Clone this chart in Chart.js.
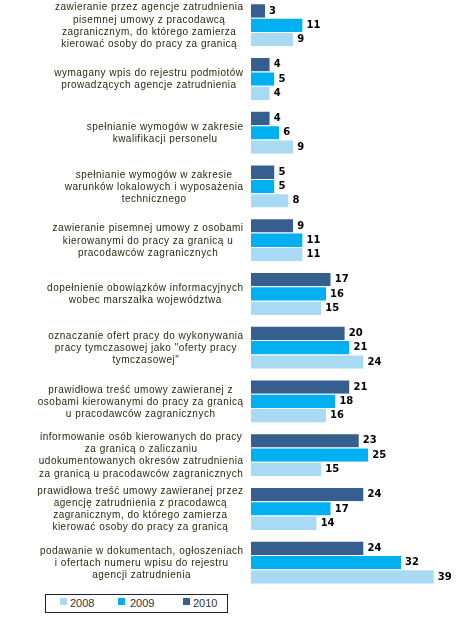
<!DOCTYPE html>
<html>
<head>
<meta charset="utf-8">
<script src="https://cdn.jsdelivr.net/npm/chart.js@4"></script>
<style>
  html, body { margin: 0; padding: 0; background: #fff; width: 462px; height: 619px; overflow: hidden; }
  #wrap { position: absolute; left: 0; top: -2px; width: 462px; height: 591px; }
  #legend { position: absolute; left: 45px; top: 594px; width: 181px; height: 17px; border: 1px solid #222; box-sizing: content-box; font: 11px "Liberation Sans", Arial, sans-serif; color: #333; }
  .item { position: absolute; top: 2px; line-height: 13px; }
  .sw { position: absolute; top: 3px; width: 7px; height: 7px; }
</style>
</head>
<body>
<div id="wrap"><canvas id="c"></canvas></div>
<div id="legend"></div>
<script>
const categories = [
  ["zawieranie przez agencje zatrudnienia","pisemnej umowy z pracodawcą","zagranicznym, do którego zamierza","kierować osoby do pracy za granicą"],
  ["wymagany wpis do rejestru podmiotów","prowadzących agencje zatrudnienia"],
  ["spełnianie wymogów w zakresie","kwalifikacji personelu"],
  ["spełnianie wymogów w zakresie","warunków lokalowych i wyposażenia","technicznego"],
  ["zawieranie pisemnej umowy z osobami","kierowanymi do pracy za granicą u","pracodawców zagranicznych"],
  ["dopełnienie obowiązków informacyjnych","wobec marszałka województwa"],
  ["oznaczanie ofert pracy do wykonywania","pracy tymczasowej jako \"oferty pracy","tymczasowej\""],
  ["prawidłowa treść umowy zawieranej z","osobami kierowanymi do pracy za granicą","u pracodawców zagranicznych"],
  ["informowanie osób kierowanych do pracy","za granicą o zaliczaniu","udokumentowanych okresów zatrudnienia","za granicą u pracodawców zagranicznych"],
  ["prawidłowa treść umowy zawieranej przez","agencję zatrudnienia z pracodawcą","zagranicznym, do którego zamierza","kierować osoby do pracy za granicą"],
  ["podawanie w dokumentach, ogłoszeniach","i ofertach numeru wpisu do rejestru","agencji zatrudnienia"]
];
const values2010 = [3, 4, 4, 5, 9, 17, 20, 21, 23, 24, 24];
const values2009 = [11, 5, 6, 5, 11, 16, 21, 18, 25, 17, 32];
const values2008 = [9, 4, 9, 8, 11, 15, 24, 16, 15, 14, 39];
const seriesNames = ["2010", "2009", "2008"];
const seriesColors = ["#365F8F", "#00B0F0", "#A9DAF3"];

const labelPlugin = {
  id: 'catLabels',
  afterDraw(chart) {
    const ctx = chart.ctx;
    const y = chart.scales.y;
    ctx.save();
    ctx.font = '10px "Liberation Sans", Arial, sans-serif';
    try { ctx.letterSpacing = '0.5px'; } catch (e) {}
    ctx.fillStyle = '#2A2A10';
    ctx.textAlign = 'center';
    ctx.textBaseline = 'middle';
    const right = 243.5, lh = 12.1;
    categories.forEach((lines, i) => {
      const cy = y.getPixelForValue(i) + 1;
      let w = 0;
      lines.forEach(l => { w = Math.max(w, ctx.measureText(l).width); });
      const cx = right - w / 2;
      const y0 = cy - (lines.length - 1) * lh / 2;
      lines.forEach((l, k) => ctx.fillText(l, cx, y0 + k * lh));
    });
    ctx.restore();
  },
  afterDatasetsDraw(chart) {
    const ctx = chart.ctx;
    ctx.save();
    ctx.font = 'bold 10px "DejaVu Sans", sans-serif';
    ctx.fillStyle = '#000';
    ctx.textAlign = 'left';
    ctx.textBaseline = 'middle';
    chart.data.datasets.forEach((ds, di) => {
      const meta = chart.getDatasetMeta(di);
      meta.data.forEach((el, i) => {
        ctx.fillText(String(ds.data[i]), el.x + 4, el.y + 0.5);
      });
    });
    ctx.restore();
  }
};

new Chart(document.getElementById('c'), {
  type: 'bar',
  data: {
    labels: categories,
    datasets: [
      { label: seriesNames[0], data: values2010, backgroundColor: seriesColors[0] },
      { label: seriesNames[1], data: values2009, backgroundColor: seriesColors[1] },
      { label: seriesNames[2], data: values2008, backgroundColor: seriesColors[2] }
    ].map(d => Object.assign(d, { borderColor: '#fff', borderWidth: { top: 1, bottom: 0, left: 0, right: 0 }, barPercentage: 1.0, categoryPercentage: 0.8 }))
  },
  options: {
    indexAxis: 'y',
    responsive: true,
    maintainAspectRatio: false,
    animation: false,
    layout: { padding: 0 },
    plugins: { legend: { display: false }, tooltip: { enabled: false } },
    scales: {
      x: { display: false, min: 0, max: 45 },
      y: {
        display: true,
        ticks: { display: false },
        grid: { display: false },
        border: { display: false },
        afterFit(scale) { scale.width = 251; }
      }
    }
  },
  plugins: [labelPlugin]
});

// legend (order 2008, 2009, 2010)
const leg = document.getElementById('legend');
const legPos = [[14, 24], [72, 84], [137, 147]];
[2, 1, 0].forEach((si, k) => {
  const sw = document.createElement('div');
  sw.className = 'sw';
  sw.style.left = legPos[k][0] + 'px';
  sw.style.background = seriesColors[si];
  leg.appendChild(sw);
  const t = document.createElement('div');
  t.className = 'item';
  t.style.left = legPos[k][1] + 'px';
  t.textContent = seriesNames[si];
  leg.appendChild(t);
});
</script>
</body>
</html>
